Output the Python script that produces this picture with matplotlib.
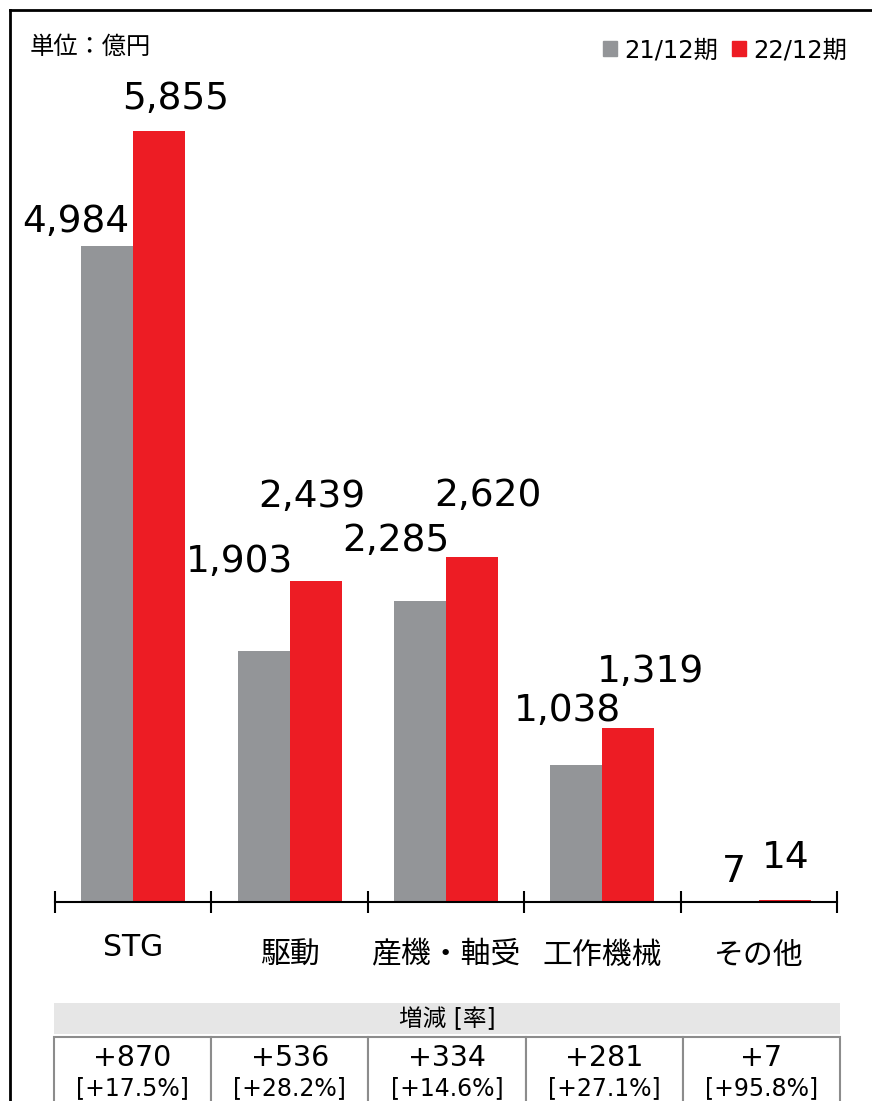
import matplotlib
matplotlib.use("Agg")
import matplotlib.pyplot as plt
from matplotlib.patches import Rectangle, Patch
from matplotlib.lines import Line2D

plt.rcParams['font.family'] = ['DejaVu Sans', 'Noto Sans CJK JP']

categories = ["STG", "駆動", "産機・軸受", "工作機械", "その他"]
fy21 = [4984, 1903, 2285, 1038, 7]
fy22 = [5855, 2439, 2620, 1319, 14]
diff = ["+870", "+536", "+334", "+281", "+7"]
rate = ["[+17.5%]", "[+28.2%]", "[+14.6%]", "[+27.1%]", "[+95.8%]"]
series_names = ["21/12期", "22/12期"]

gray = "#939598"
red = "#ED1C24"

# label offsets in pixels (dx, dy) from the bar top, as laid out in the slide
off21 = [(-31, 14), (-24, 79), (-24, 50), (-9, 44), (1, 19)]
off22 = [(16, 22), (-4, 74), (16, 51), (22, 46), (1, 32)]

W, H = 872, 1101
fig = plt.figure(figsize=(W / 100, H / 100), dpi=100)

# outer frame (left and top edges visible)
fig.add_artist(Line2D([9.5 / W, 9.5 / W], [0, 1 - 10 / H], color="black", lw=2,
                      transform=fig.transFigure))
fig.add_artist(Line2D([9.5 / W, 1], [1 - 10 / H, 1 - 10 / H], color="black", lw=2,
                      transform=fig.transFigure))

ax = fig.add_axes([55 / W, (H - 902) / H, 782 / W, (902 - 60) / H])
x = range(len(categories))
bw = 0.333
b1 = ax.bar([i - bw / 2 for i in x], fy21, bw, color=gray)
b2 = ax.bar([i + bw / 2 for i in x], fy22, bw, color=red)

for bars, vals, offs in [(b1, fy21, off21), (b2, fy22, off22)]:
    for b, v, (dx, dy) in zip(bars, vals, offs):
        ax.annotate(f"{v:,}", (b.get_x() + b.get_width() / 2, v),
                    xytext=(dx, dy), textcoords="offset pixels",
                    ha="center", va="baseline", fontsize=27)

ax.set_xlim(-0.5, 4.5)
ax.set_ylim(0, 842 / 0.1317)
for s in ["top", "right", "left"]:
    ax.spines[s].set_visible(False)
ax.spines["bottom"].set_linewidth(1.5)
ax.set_yticks([])
ax.set_xticks([i - 0.5 for i in range(6)])
ax.set_xticklabels([])
ax.tick_params(axis="x", which="major", direction="inout", length=16, width=1.5)

# category names; the Japanese ones sit a little lower in the slide
for i, name in enumerate(categories):
    dy = -46 if name.isascii() else -53
    ax.annotate(name, (i, 0), xytext=(0, dy), textcoords="offset pixels",
                ha="center", va="center", fontsize=21.5, annotation_clip=False)

fig.text(30 / W, 1 - 47 / H, "単位：億円", fontsize=17.5, va="center", ha="left")

handles = [Patch(color=gray), Patch(color=red)]
fig.legend(handles, series_names, loc="center right", ncol=2, frameon=False,
           bbox_to_anchor=(847 / W, 1 - 50 / H), fontsize=17.5,
           handlelength=0.55, handleheight=0.55, handletextpad=0.3,
           columnspacing=0.6, borderpad=0, borderaxespad=0)

# change table
tab = fig.add_axes([54 / W, 0, 786 / W, (H - 1003) / H])
tab.set_xlim(0, 5)
tab.set_ylim(H - 1003, 0)
tab.axis("off")
tab.add_patch(Rectangle((0, 0), 5, 31, facecolor="#E6E6E6", edgecolor="none"))
tab.text(2.5, 16, "増減 [率]", ha="center", va="center", fontsize=17)
for i in range(5):
    tab.add_patch(Rectangle((i, 34), 1, 100, facecolor="white",
                            edgecolor="#8C8C8C", lw=1.5, clip_on=False))
    tab.text(i + 0.5, 55, diff[i], ha="center", va="center", fontsize=20.5)
    tab.text(i + 0.5, 85, rate[i], ha="center", va="center", fontsize=17)

fig.savefig("out.png", dpi=100)
